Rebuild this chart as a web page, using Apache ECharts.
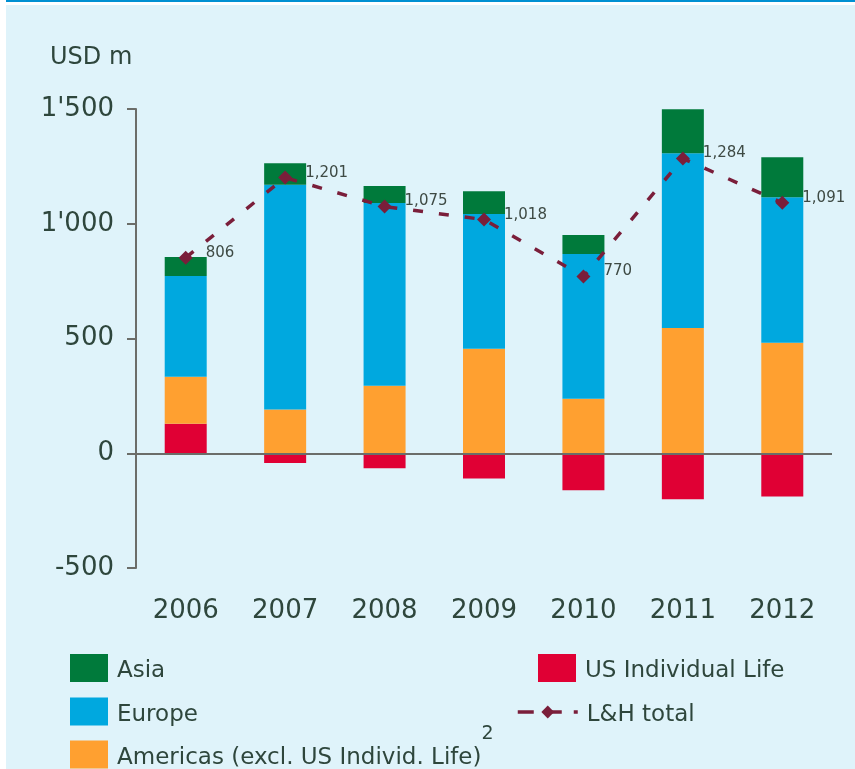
<!DOCTYPE html>
<html>
<head>
<meta charset="utf-8">
<script src="https://cdn.jsdelivr.net/npm/echarts@6/dist/echarts.min.js"></script>
<style>
  html, body { margin: 0; padding: 0; background: #ffffff; }
  .panel { position: absolute; left: 6px; top: 5px; width: 849px; height: 764px; background: #dff3fa; }
  .rule { position: absolute; left: 6px; top: 0; width: 849px; height: 2px; background: #0090d2; }
  #chart { position: absolute; left: 0; top: 0; width: 855px; height: 769px; }
</style>
</head>
<body>
<div class="panel"></div>
<div class="rule"></div>
<div id="chart"></div>
<script>
const years = ["2006", "2007", "2008", "2009", "2010", "2011", "2012"];
const usIndividualLife = [129, -43, -65, -110, -161, -200, -188];
const americas = [204, 191, 294, 455, 238, 546, 481];
const europe = [439, 979, 796, 587, 630, 761, 635];
const asia = [83, 94, 74, 100, 83, 192, 174];
const lhTotal = [852, 1201, 1075, 1018, 770, 1284, 1091];
const lhTotalLabels = ["806", "1,201", "1,075", "1,018", "770", "1,284", "1,091"];
const yTicks = [-500, 0, 500, 1000, 1500];

const textColor = "#2e463c";
const axisColor = "#6b6d69";
const font = "DejaVu Sans";

const chart = echarts.init(document.getElementById("chart"));

function barSeries(name, data, color) {
  return {
    type: "bar",
    name,
    stack: "total",
    data,
    barWidth: 42,
    itemStyle: { color },
  };
}

// legend labels go through rich text so they can sit a little low, like the original
const legendText = {
  color: textColor,
  fontFamily: font,
  fontSize: 23,
  padding: [0, 0, 0, 4],
  rich: {
    main: { color: textColor, fontFamily: font, fontSize: 23, verticalAlign: "middle", padding: [7, 0, 0, 0] },
    sup: { color: textColor, fontFamily: font, fontSize: 19, verticalAlign: "top", padding: [0, 0, 40, 0] },
  },
};

function boxLegend(left, top, names) {
  return {
    orient: "vertical",
    left,
    top,
    padding: 0,
    itemWidth: 38,
    itemHeight: 28,
    itemGap: 14.5,
    icon: "rect",
    data: names,
    textStyle: legendText,
    formatter: (name) => `{main|${name}}`,
  };
}

chart.setOption({
  backgroundColor: "transparent",
  animation: false,
  title: {
    text: "USD m",
    left: 50,
    top: 46,
    padding: 0,
    textStyle: { color: textColor, fontFamily: font, fontSize: 24, fontWeight: "normal" },
  },
  grid: { top: 109, bottom: 201, left: 136, right: 23 },
  legend: [
    boxLegend(70, 654, ["Asia", "Europe"]),
    {
      ...boxLegend(70, 725, ["Americas (excl. US Individ. Life)"]),
      formatter: (name) => `{main|${name}}{sup|2}`,
    },
    boxLegend(538, 654, ["US Individual Life"]),
    {
      left: 516,
      top: 704,
      padding: 0,
      itemWidth: 60,
      itemHeight: 16,
      data: ["L&H total"],
      lineStyle: { type: [16, 12], width: 3.5 },
      textStyle: legendText,
      formatter: (name) => `{main|${name}}`,
    },
  ],
  xAxis: {
    type: "category",
    data: years,
    position: "bottom",
    axisLine: { show: false, onZero: false },
    axisTick: { show: false },
    axisLabel: { color: textColor, fontFamily: font, fontSize: 26, margin: 30 },
  },
  yAxis: {
    type: "value",
    min: yTicks[0],
    max: yTicks[yTicks.length - 1],
    interval: 500,
    axisLine: { show: true, lineStyle: { color: axisColor, width: 2 } },
    axisTick: { show: true, length: 9, lineStyle: { color: axisColor, width: 2 } },
    splitLine: { show: false },
    axisLabel: {
      color: textColor,
      fontFamily: font,
      fontSize: 26,
      margin: 22,
      formatter: (v) => String(v).replace(/(\d)(?=(\d{3})+$)/, "$1'"),
    },
  },
  series: [
    barSeries("US Individual Life", usIndividualLife, "#e00034"),
    barSeries("Americas (excl. US Individ. Life)", americas, "#ffa030"),
    barSeries("Europe", europe, "#00a8df"),
    {
      ...barSeries("Asia", asia, "#007a3b"),
      markLine: {
        silent: true,
        symbol: "none",
        label: { show: false },
        lineStyle: { color: axisColor, width: 2, type: "solid" },
        data: [{ yAxis: 0 }],
      },
    },
    {
      type: "line",
      name: "L&H total",
      data: lhTotal,
      z: 5,
      symbol: "diamond",
      symbolSize: 14,
      itemStyle: { color: "#7a1e3a" },
      lineStyle: { color: "#7a1e3a", width: 3.5, type: [10, 16] },
      label: {
        show: true,
        position: "right",
        distance: 13,
        offset: [0, -5],
        color: "#3e4a44",
        fontFamily: font,
        fontSize: 15,
        formatter: (p) => lhTotalLabels[p.dataIndex],
      },
    },
  ],
});
</script>
</body>
</html>
